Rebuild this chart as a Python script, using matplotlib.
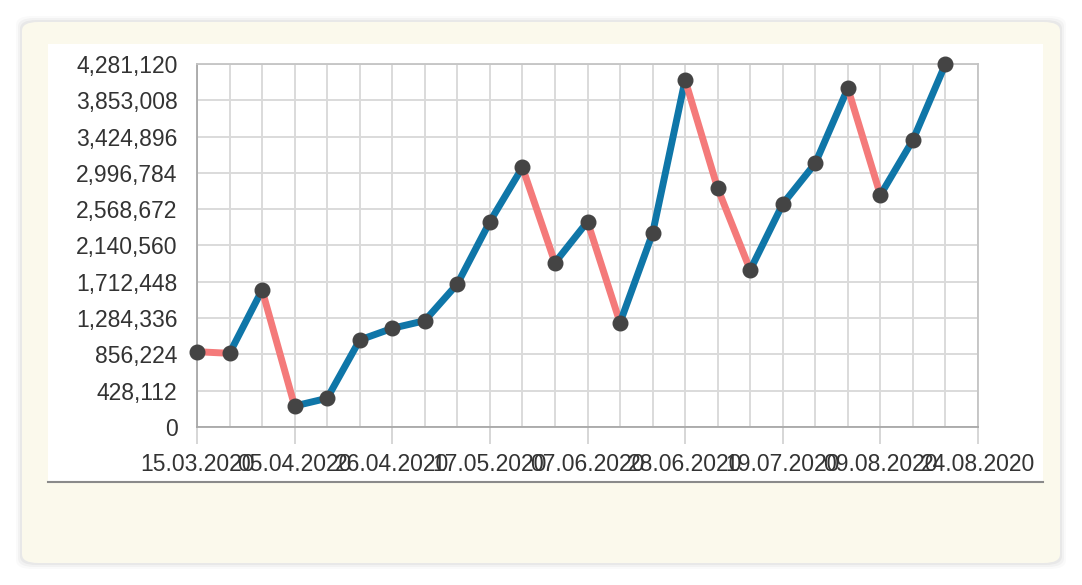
import matplotlib.pyplot as plt
from matplotlib.patches import FancyBboxPatch, Rectangle

# weekly values
values = [888000, 869000, 1615700, 247700, 338500, 1026000, 1163700, 1253700,
          1686500, 2421700, 3062400, 1938000, 2421700, 1230300, 2284100, 4092400,
          2815000, 1851600, 2630000, 3109900, 3994500, 2736200, 3384800, 4281120]
date_labels = ['15.03.2020', '05.04.2020', '26.04.2020', '17.05.2020', '07.06.2020',
               '28.06.2020', '19.07.2020', '09.08.2020', '24.08.2020']
y_ticks = [0, 428112, 856224, 1284336, 1712448, 2140560, 2568672, 2996784,
           3424896, 3853008, 4281120]

W, H = 1082, 585
fig = plt.figure(figsize=(W / 100, H / 100), dpi=100)
fig.patch.set_facecolor('white')
plt.rcParams['font.family'] = ['Liberation Sans', 'DejaVu Sans']

# card with soft shadow
for i, a in enumerate([0.02, 0.03, 0.04]):
    g = 6 - 2 * i
    fig.patches.append(FancyBboxPatch(((22 - g) / W, 1 - (563 + g) / H),
                                      (1038 + 2 * g) / W, (541 + 2 * g) / H,
                                      boxstyle='round,pad=0,rounding_size=0.015',
                                      transform=fig.transFigure, facecolor='black',
                                      alpha=a, edgecolor='none', zorder=0))
fig.patches.append(FancyBboxPatch((22 / W, 1 - 563 / H), 1038 / W, 541 / H,
                                  boxstyle='round,pad=0,rounding_size=0.015',
                                  transform=fig.transFigure, facecolor='#fbf9ec',
                                  edgecolor='none', zorder=1))
# white panel
fig.patches.append(Rectangle((48 / W, 1 - 482 / H), 995 / W, 438 / H,
                             transform=fig.transFigure, facecolor='white',
                             edgecolor='none', zorder=2))
fig.lines.append(plt.Line2D([48 / W, 1043 / W], [1 - 482 / H, 1 - 482 / H],
                            transform=fig.transFigure, color='#8a8a8a', lw=1.5, zorder=3))

ax = fig.add_axes([197 / W, 1 - 427 / H, (978 - 197) / W, (427 - 64) / H])
ax.set_facecolor('white')
ax.set_zorder(5)

x = list(range(len(values)))
for i in range(len(values) - 1):
    c = '#0f76a8' if values[i + 1] >= values[i] else '#f47a7a'
    ax.plot(x[i:i + 2], values[i:i + 2], color=c, lw=5, solid_capstyle='round',
            zorder=3, clip_on=False)
ax.plot(x, values, 'o', color='#444444', markersize=10.5, zorder=4, clip_on=False)

ax.set_xlim(0, 24)
ax.set_ylim(0, 4281120)
ax.set_xticks(range(0, 25, 3))
ax.set_xticklabels(date_labels)
ax.set_xticks(range(0, 25), minor=True)
ax.set_yticks(y_ticks)
ax.set_yticklabels([f'{v:,}' for v in y_ticks])

ax.grid(True, which='both', color='#dadada', lw=1.4)
ax.set_axisbelow(True)
ax.tick_params(axis='x', which='major', length=12, width=1.2, color='#cfcfcf',
               pad=7, labelsize=16.5, labelcolor='#333333')
ax.tick_params(axis='x', which='minor', length=0)
ax.tick_params(axis='y', length=0, pad=14, labelsize=16.5, labelcolor='#333333')
for s in ['left', 'bottom']:
    ax.spines[s].set_color('#a8a8a8')
    ax.spines[s].set_linewidth(1.3)
for s in ['top', 'right']:
    ax.spines[s].set_color('#c4c4c4')
    ax.spines[s].set_linewidth(1.3)

fig.savefig('out.png', dpi=100)
